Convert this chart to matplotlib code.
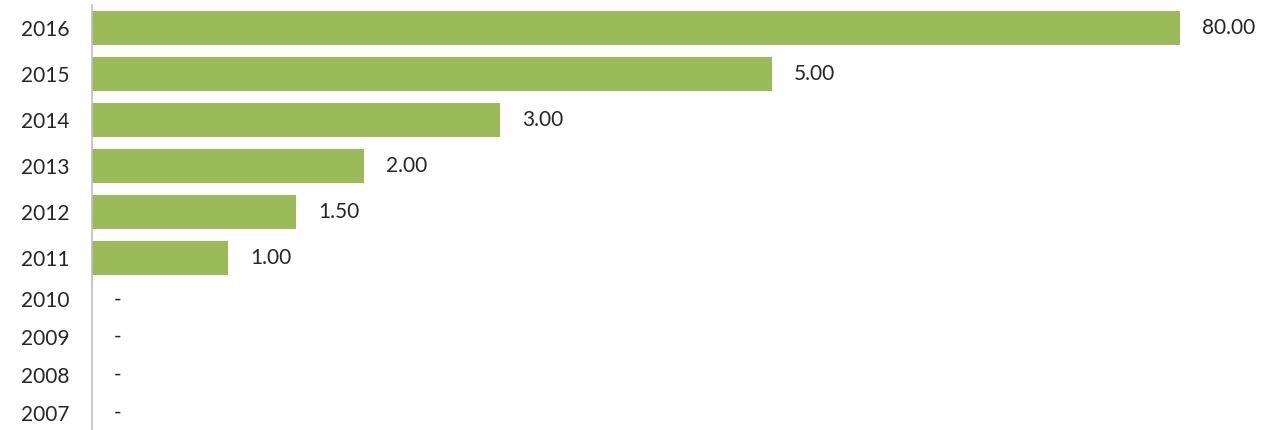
import matplotlib.pyplot as plt
import numpy as np

# 数据
years = ['2016', '2015', '2014', '2013', '2012', '2011', '2010', '2009', '2008', '2007']
values = [80.0, 5.0, 3.0, 2.0, 1.5, 1.0, 0.0, 0.0, 0.0, 0.0]

BAR_COLOR = '#9BBB59'
TEXT_COLOR = '#262626'
X_MAX = 8  # 坐标轴上限, 80 的柱子被截断

plt.rcParams['font.family'] = ['Lato', 'DejaVu Sans']

# 行位置: 有柱子的行间距 1, 空行间距小一些
steps = [0] + [1.0 if values[i - 1] > 0 else 0.82 for i in range(1, len(values))]
steps[6] = 0.9
ys = np.cumsum(steps)

fig = plt.figure(figsize=(12.65, 4.30), dpi=100)
ax = fig.add_axes([92 / 1265, 0, (1180 - 92) / 1265, 425 / 430])

ax.barh(ys, values, height=0.74, color=BAR_COLOR)
ax.set_xlim(0, X_MAX)
ax.set_ylim(8.74, -0.5)

for y, v in zip(ys, values):
    label = '%.2f' % v if v > 0 else '-'
    ax.annotate(label, xy=(min(v, X_MAX), y), xytext=(16, 0), textcoords='offset points',
                ha='left', va='center', fontsize=15, color=TEXT_COLOR, annotation_clip=False)

ax.set_yticks(ys)
ax.set_yticklabels(years, fontsize=15, color=TEXT_COLOR)
ax.tick_params(axis='y', length=0, pad=16)
ax.set_xticks([])
for s in ['top', 'right', 'bottom']:
    ax.spines[s].set_visible(False)
ax.spines['left'].set_color('#BFBFBF')
ax.spines['left'].set_linewidth(1.2)

plt.savefig('out.png', dpi=100)
